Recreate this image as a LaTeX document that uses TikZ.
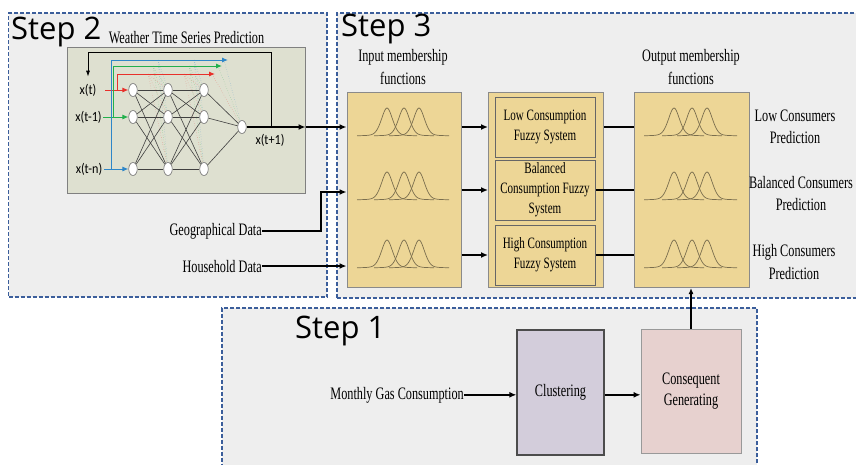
\documentclass[tikz,border=0pt]{standalone}
\usepackage{fontspec}
\newfontfamily\tnr{Liberation Serif}[FakeStretch=0.7]
\newfontfamily\stepfont{Open Sans}
\newfontfamily\nnfont{Carlito}[FakeStretch=0.87]
\usetikzlibrary{arrows.meta,shapes.geometric}
\definecolor{stepbg}{HTML}{EEEEEE}
\definecolor{dashblue}{HTML}{3B5E9B}
\definecolor{ybox}{HTML}{EDD696}
\definecolor{bordergray}{HTML}{8A8A8A}
\definecolor{nnbg}{HTML}{DEE0D0}
\definecolor{clusc}{HTML}{D3CDDB}
\definecolor{consc}{HTML}{E7D1CF}
\definecolor{gaussc}{HTML}{7A6E4E}
\definecolor{redc}{HTML}{E8302A}
\definecolor{greenc}{HTML}{22B04C}
\definecolor{bluec}{HTML}{2E86C8}
\newcommand{\gaussrow}[4]{%
  \foreach \m in {#1,#2,#3}{%
    \draw[gcurve] plot[domain=-30:30,samples=61,smooth] ({\m+\x},{#4-7/(1+(\x/6)*(\x/6))-21*exp(-(\x/8)*(\x/8))});}}
\begin{document}
\begin{tikzpicture}[x=1pt,y=-1pt,
  stepbox/.style={draw=dashblue,fill=stepbg,line width=1.3pt,dash pattern=on 4pt off 2pt,inner sep=0},
  steptxt/.style={font=\stepfont\fontsize{31}{33}\selectfont,inner sep=0},
  lbl/.style={font=\tnr\fontsize{17.5}{22.5}\selectfont,inner sep=0,align=center},
  yb/.style={draw=bordergray,fill=ybox,line width=1pt,inner sep=0,minimum width=115pt,minimum height=195pt},
  fzin/.style={draw=black!60,fill=ybox,line width=1pt,inner sep=0,minimum width=100pt,minimum height=60pt,align=center,font=\tnr\fontsize{15.8}{20}\selectfont},
  nnbox/.style={draw=black!50,fill=nnbg,line width=1pt,inner sep=0},
  neuron/.style={ellipse,draw=black!55,fill=white,line width=.6pt,minimum width=8.5pt,minimum height=13pt,inner sep=0},
  nnedge/.style={draw=black!75,line width=.6pt},
  nnlbl/.style={font=\nnfont\fontsize{14}{16}\selectfont,inner sep=1pt},
  arr/.style={line width=1.8pt,-{Latex[length=7pt,width=6pt]}},
  bar/.style={line width=1.8pt},
  gcurve/.style={draw=gaussc,line width=.7pt},
  cin/.style={line width=1pt,-{Latex[length=6pt,width=5pt]}},
  skip/.style={line width=.4pt,dotted,opacity=.55}
]
\useasboundingbox (0,0) rectangle (856,464);
\fill[white] (0,0) rectangle (856,464);

% step boxes
\node[stepbox,minimum width=318.5pt,minimum height=284pt] (s2) at (167.75,155) {};
\node[stepbox,minimum width=533pt,minimum height=285pt] (s3) at (603.5,155.5) {};
\node[stepbox,minimum width=535pt,minimum height=172pt] (s1) at (489.5,394) {};
\node[steptxt,anchor=base west] (t2) at (11,39) {Step 2};
\node[steptxt,anchor=base west] (t3) at (341,36) {Step 3};
\node[steptxt,anchor=base west] (t1) at (295,338.5) {Step 1};

% ---------- Step 2 : neural network ----------
\node[lbl,anchor=base] (wt) at (186.5,43) {Weather Time Series Prediction};
\node[nnbox,minimum width=238pt,minimum height=146pt] (nn) at (186,120) {};

\node[nnlbl] (xt) at (88,90) {x(t)};
\node[nnlbl] (xt1) at (88.5,117) {x(t-1)};
\node[nnlbl] (xtn) at (89,169) {x(t-n)};
\node[nnlbl] (xo) at (270,140) {x(t+1)};

\foreach \c/\xx in {1/133,2/168,3/204}{
  \node[neuron] (n\c1) at (\xx,90) {};
  \node[neuron] (n\c2) at (\xx,117) {};
  \node[neuron] (n\c3) at (\xx,169) {};
}
\node[neuron] (o) at (242,127) {};

% skip connections (faint dotted)
\foreach \c/\yy/\k in {redc/74/0,greenc/66/1,bluec/60/2}{
  \coordinate (da\k) at (148+5*\k,\yy);
  \coordinate (db\k) at (184+5*\k,\yy);
  \coordinate (dc\k) at (212+6*\k,\yy);
  \foreach \j in {1,2,3}{
    \draw[skip,\c] (da\k) -- (n2\j);
    \draw[skip,\c] (db\k) -- (n3\j);
  }
  \draw[skip,\c] (dc\k) -- (o);
}

\foreach \i in {1,2,3}{
  \foreach \j in {1,2,3}{
    \draw[nnedge] (n1\i) -- (n2\j);
    \draw[nnedge] (n2\i) -- (n3\j);
  }
  \draw[nnedge] (n3\i) -- (o);
}

% coloured inputs
\coordinate (r0) at (105,90);
\coordinate (g0) at (103,117);
\coordinate (b0) at (104,169);
\draw[cin,redc] (r0) -- (n11);
\draw[cin,greenc] (g0) -- (n12);
\draw[cin,bluec] (b0) -- (n13);
\coordinate (rb) at (117,90);  \coordinate (rt) at (215,74);
\coordinate (gb) at (113,117); \coordinate (gt) at (222,66);
\coordinate (bb) at (111,169); \coordinate (bt) at (228,60);
\draw[cin,redc] (rb) |- (rt);
\draw[cin,greenc] (gb) |- (gt);
\draw[cin,bluec] (bb) |- (bt);

% feedback
\coordinate (fb) at (271,127);
\coordinate (fbt) at (88,52);
\draw[line width=.9pt,-{Latex[length=6pt,width=4pt]},shorten >=6pt] (fb) |- (fbt) -- (xt.north);

% output of network
\draw[arr] (o) -- (o -| nn.east);

% ---------- Step 3 ----------
\node[lbl] (imf) at (403,67) {Input membership\\functions};
\node[lbl] (omf) at (691,67) {Output membership\\functions};

\node[yb,minimum width=114pt] (inb) at (404,190) {};
\node[yb] (fz) at (546,190) {};
\node[yb] (outb) at (691.5,190) {};
\node[fzin] (low) at (545,127) {Low Consumption\\Fuzzy System};
\node[fzin] (bal) at (545,190) {Balanced\\Consumption Fuzzy\\System};
\node[fzin] (high) at (545,255) {High Consumption\\Fuzzy System};

\gaussrow{387}{404}{419}{136}
\gaussrow{387}{404}{419}{200}
\gaussrow{387}{404}{419}{268}
\gaussrow{674}{692}{707}{136}
\gaussrow{674}{692}{707}{200}
\gaussrow{674}{692}{707}{268}

\node[lbl] (lcp) at (795,127) {Low Consumers\\Prediction};
\node[lbl] (bcp) at (801,193.5) {Balanced Consumers\\Prediction};
\node[lbl] (hcp) at (794,262) {High Consumers\\Prediction};

\draw[arr] (o -| nn.east) -- (o -| inb.west);

\node[lbl,anchor=base east] (geo) at (262,235) {Geographical Data};
\node[lbl,anchor=base east] (hh) at (262,272) {Household Data};
\coordinate (g1) at (321,192);
\draw[arr] (geo.east) -| (g1) -- (g1 -| inb.west);
\draw[arr] (hh.east) -- (hh.east -| inb.west);

\draw[arr] (inb.east |- low) -- (fz.west |- low);
\draw[arr] (inb.east |- bal) -- (fz.west |- bal);
\draw[arr] (inb.east |- high) -- (fz.west |- high);
\draw[bar] (fz.east |- low) -- (outb.west |- low);
\draw[bar] (bal.east) -- (outb.west |- bal);
\draw[bar] (high.east) -- (outb.west |- high);

% ---------- Step 1 ----------
\node[draw=black!70,fill=clusc,line width=1.2pt,minimum width=87pt,minimum height=125pt,inner sep=0,font=\tnr\fontsize{17.5}{20.5}\selectfont] (clus) at (560.5,392.5) {Clustering};
\node[draw=black!40,fill=consc,line width=1pt,minimum width=100pt,minimum height=124pt,inner sep=0,align=center,font=\tnr\fontsize{17.5}{20.5}\selectfont] (cons) at (691,391) {Consequent\\Generating};
\node[lbl,anchor=base east] (mgc) at (464,399) {Monthly Gas Consumption};
\draw[arr] (mgc.east) -- (mgc.east -| clus.west);
\draw[arr] (clus.east |- mgc.east) -- (cons.west |- mgc.east);
\draw[line width=1.2pt,-{Latex[length=6pt,width=5pt]}] (cons.north) -- (cons.north |- outb.south);
\end{tikzpicture}
\end{document}
